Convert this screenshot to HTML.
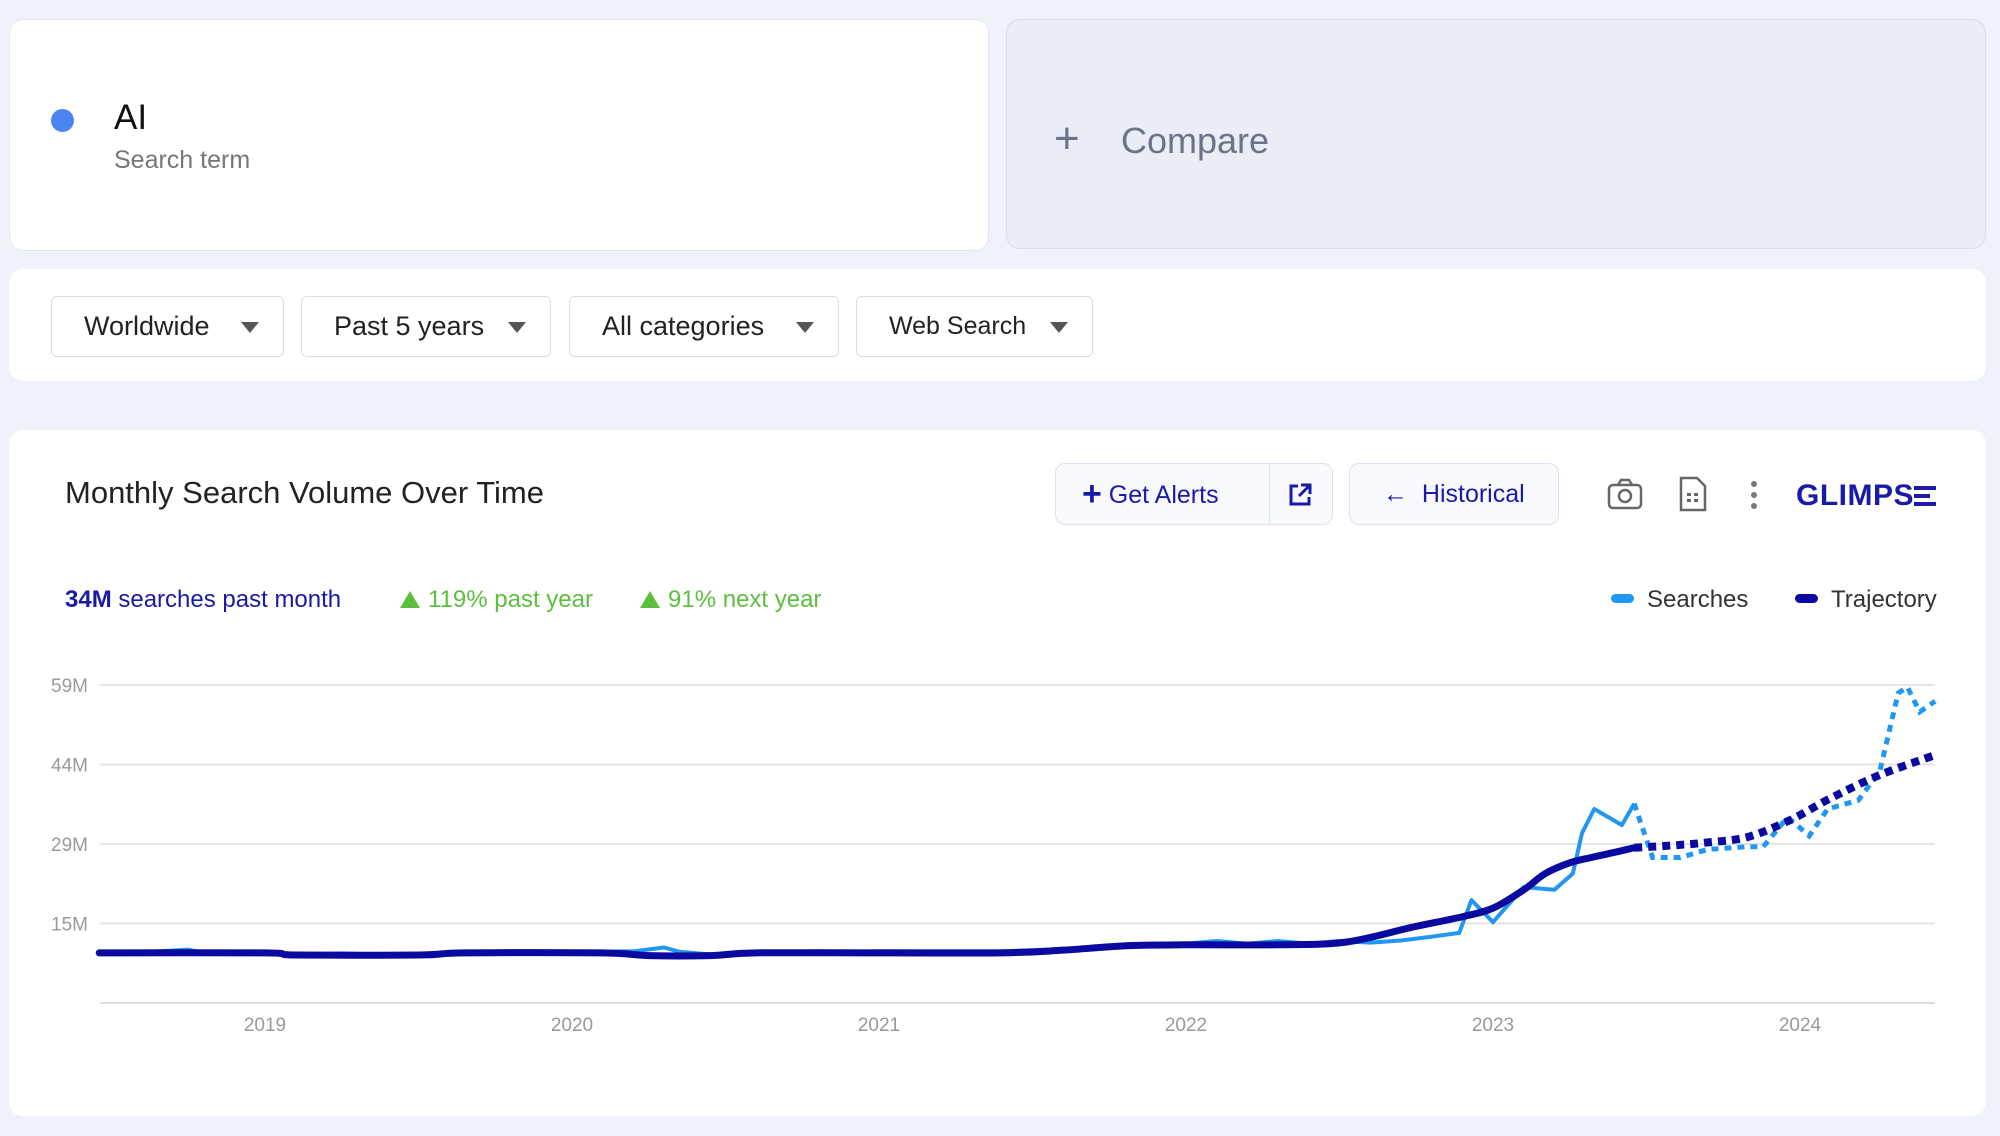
<!DOCTYPE html>
<html><head><meta charset="utf-8">
<style>
*{box-sizing:border-box;margin:0;padding:0}
body{width:2000px;height:1136px;background:#eff2f8;font-family:"Liberation Sans",sans-serif;position:relative;overflow:hidden}
.abs{position:absolute}
.card{position:absolute;background:#fff;border-radius:14px;border:1px solid #e3e6ec}
.dd{position:absolute;top:296px;height:61px;border:1px solid #d9dce2;border-radius:6px;background:#fff;font-size:27px;color:#222;line-height:59px;padding-left:32px}
.dd .car{position:absolute;right:24px;top:25px;width:0;height:0;border-left:9px solid transparent;border-right:9px solid transparent;border-top:11px solid #555}
.btn{position:absolute;top:463px;height:62px;border:1px solid #dde2ee;border-radius:10px;background:#f7f9fd;color:#1a1aa6;font-size:25px;line-height:60px}
.stat{position:absolute;top:586px;font-size:24px}
.tri{display:inline-block;width:0;height:0;border-left:10px solid transparent;border-right:10px solid transparent;border-bottom:17px solid #5cbf3e;margin-right:8px;vertical-align:-1px}
</style></head><body>
<div class="card" style="left:9px;top:19px;width:980px;height:232px"></div>
<div class="abs" style="left:51px;top:109px;width:23px;height:23px;border-radius:50%;background:#4a84f0"></div>
<div class="abs" style="left:114px;top:98px;font-size:35px;color:#111">AI</div>
<div class="abs" style="left:114px;top:146px;font-size:25px;color:#777">Search term</div>
<div class="card" style="left:1006px;top:19px;width:980px;height:230px;background:#e9edf6;border-color:#d8dde8"></div>
<div class="abs" style="left:1054px;top:114px;font-size:44px;color:#6c7386;font-weight:300">+</div>
<div class="abs" style="left:1121px;top:120px;font-size:36px;color:#6c7386">Compare</div>

<div class="card" style="left:9px;top:269px;width:1977px;height:112px;border:none"></div>
<div class="dd" style="left:51px;width:233px">Worldwide<span class="car"></span></div>
<div class="dd" style="left:301px;width:250px">Past 5 years<span class="car"></span></div>
<div class="dd" style="left:569px;width:270px">All categories<span class="car"></span></div>
<div class="dd" style="left:856px;width:237px;font-size:25px">Web Search<span class="car"></span></div>

<div class="card" style="left:9px;top:430px;width:1977px;height:686px;border:none"></div>
<div class="abs" style="left:65px;top:475px;font-size:31px;color:#222">Monthly Search Volume Over Time</div>
<div class="btn" style="left:1055px;width:278px;padding-left:26px"><span style="font-size:34px;font-weight:bold;vertical-align:-2px">+</span> Get Alerts</div>
<div class="abs" style="left:1269px;top:464px;width:1px;height:60px;background:#dde2ee"></div>
<svg class="abs" style="left:1287px;top:482px" width="26" height="26" viewBox="0 0 26 26"><path d="M11 4H4v18h18v-7" fill="none" stroke="#1a1aa6" stroke-width="3"/><path d="M14 3h9v9M23 3L12 14" fill="none" stroke="#1a1aa6" stroke-width="3"/></svg>
<div class="btn" style="left:1349px;width:210px;padding-left:33px">← &nbsp;Historical</div>
<svg class="abs" style="left:1607px;top:478px" width="36" height="32" viewBox="0 0 36 32"><rect x="2" y="7" width="32" height="23" rx="4" fill="none" stroke="#666" stroke-width="2.5"/><path d="M11 7l3-5h8l3 5" fill="none" stroke="#666" stroke-width="2.5"/><circle cx="18" cy="18" r="6" fill="none" stroke="#666" stroke-width="2.5"/></svg>
<svg class="abs" style="left:1679px;top:476px" width="28" height="36" viewBox="0 0 28 36"><path d="M2 2h16l8 8v24H2z" fill="none" stroke="#666" stroke-width="2.5"/><rect x="8" y="17" width="4" height="3" fill="#666"/><rect x="15" y="17" width="4" height="3" fill="#666"/><rect x="8" y="23" width="4" height="3" fill="#666"/><rect x="15" y="23" width="4" height="3" fill="#666"/></svg>
<svg class="abs" style="left:1749px;top:480px" width="10" height="30"><circle cx="5" cy="4" r="3" fill="#777"/><circle cx="5" cy="15" r="3" fill="#777"/><circle cx="5" cy="26" r="3" fill="#777"/></svg>
<div class="abs" style="left:1796px;top:479px;font-size:30px;font-weight:bold;color:#1a1aa6;letter-spacing:0.5px">GLIMPS<span style="display:inline-block;width:22px;height:20px;border-top:4px solid #1a1aa6;border-bottom:4px solid #1a1aa6;position:relative;vertical-align:-1px"><span style="position:absolute;left:0;top:4px;width:16px;height:4px;background:#1a1aa6"></span></span></div>

<div class="stat" style="left:65px;color:#1a1aa6"><b>34M</b> searches past month</div>
<div class="stat" style="left:400px;color:#5cbf3e"><span class="tri"></span>119% past year</div>
<div class="stat" style="left:640px;color:#5cbf3e"><span class="tri"></span>91% next year</div>
<div class="abs" style="left:1611px;top:586px;font-size:24px;color:#333"><span style="display:inline-block;width:23px;height:9px;border-radius:5px;background:#2196f3;margin-right:13px;vertical-align:4px"></span>Searches</div>
<div class="abs" style="left:1795px;top:586px;font-size:24px;color:#333"><span style="display:inline-block;width:23px;height:9px;border-radius:5px;background:#0a0a9e;margin-right:13px;vertical-align:4px"></span>Trajectory</div>

<svg id="chart" class="abs" style="left:0;top:0" width="2000" height="1136"></svg>
<script>
const yTicks=[14.75,29.5,44.25,59];
const yTickLabels=["15M","29M","44M","59M"];
const xTicks=[2019,2020,2021,2022,2023,2024];
const xTickLabels=["2019","2020","2021","2022","2023","2024"];
const searchDates=[2018.46,2018.6,2018.75,2018.8,2018.9,2019.0,2019.1,2019.25,2019.4,2019.55,2019.7,2019.8,2019.9,2020.1,2020.2,2020.3,2020.35,2020.45,2020.6,2020.8,2020.9,2021.0,2021.2,2021.4,2021.6,2021.75,2021.9,2022.0,2022.1,2022.2,2022.3,2022.4,2022.5,2022.6,2022.7,2022.8,2022.89,2022.93,2023.0,2023.1,2023.2,2023.26,2023.29,2023.33,2023.42,2023.46];
const searchValues=[9.3,9.4,9.9,9.3,9.3,9.4,8.9,9.2,8.9,9.0,9.5,9.3,9.3,9.5,9.6,10.3,9.5,9.0,9.3,9.6,9.5,9.6,9.6,9.6,10.0,10.6,10.8,11.0,11.5,11.0,11.5,11.0,11.5,11.2,11.6,12.3,13.0,19.1,15.0,21.5,21.0,24.0,31.5,36.0,33.0,37.0];
const forecastDates=[2023.46,2023.52,2023.61,2023.7,2023.83,2023.88,2023.96,2024.03,2024.09,2024.19,2024.26,2024.32,2024.35,2024.39,2024.44];
const forecastValues=[37.0,27.0,27.0,28.5,29.0,29.0,34.5,31.0,36.0,37.6,43.0,57.5,58.6,54.0,56.0];
const trajDates=[2018.46,2019.0,2019.1,2019.5,2019.65,2020.1,2020.25,2020.45,2020.6,2021.0,2021.4,2021.6,2021.8,2022.0,2022.3,2022.52,2022.74,2022.9,2023.0,2023.1,2023.17,2023.25,2023.32,2023.4,2023.46];
const trajValues=[9.3,9.3,8.9,8.9,9.3,9.3,8.8,8.8,9.3,9.3,9.3,9.8,10.6,10.8,10.8,11.3,14.1,16.0,17.6,21.0,24.0,26.0,27.0,28.0,28.8];
const trajFcDates=[2023.46,2023.6,2023.7,2023.83,2023.97,2024.1,2024.26,2024.44];
const trajFcValues=[28.8,29.3,29.8,30.8,34.0,38.0,42.3,46.0];

const X=t=>265+(t-2019)*307;
const Y=v=>1003-v*(318/59);
const svg=document.getElementById('chart');
const NS='http://www.w3.org/2000/svg';
function mk(tag,attrs){const e=document.createElementNS(NS,tag);for(const k in attrs)e.setAttribute(k,attrs[k]);svg.appendChild(e);return e;}
yTicks.forEach((v,i)=>{
  const g=mk('line',{x1:100,x2:1935,y1:Y(v),y2:Y(v),stroke:'#e6e6e6','stroke-width':2});
  
  
  const t=mk('text',{x:51,y:Y(v)+7,'font-size':19,fill:'#999','font-family':'Liberation Sans, sans-serif'});
  t.textContent=yTickLabels[i];
  
  
});
const base=mk('line',{x1:100,x2:1935,y1:1003,y2:1003,stroke:'#ddd','stroke-width':2});


xTicks.forEach((v,i)=>{
  const t=mk('text',{x:X(v),y:1031,'font-size':19,fill:'#999','text-anchor':'middle','font-family':'Liberation Sans, sans-serif'});
  t.textContent=xTickLabels[i];
  
  
});
function pts(d,v){return d.map((t,i)=>X(t).toFixed(1)+','+Y(v[i]).toFixed(1)).join(' ');}
function smooth(d,v){
  const p=d.map((t,i)=>[X(t),Y(v[i])]);
  let s='M'+p[0][0]+','+p[0][1];
  for(let i=0;i<p.length-1;i++){
    const p0=p[i-1]||p[i],p1=p[i],p2=p[i+1],p3=p[i+2]||p2;
    const c1=[p1[0]+(p2[0]-p0[0])/6,p1[1]+(p2[1]-p0[1])/6];
    const c2=[p2[0]-(p3[0]-p1[0])/6,p2[1]-(p3[1]-p1[1])/6];
    s+=' C'+c1.join(',')+' '+c2.join(',')+' '+p2.join(',');
  }
  return s;
}
const s1=mk('polyline',{points:pts(searchDates,searchValues),fill:'none',stroke:'#2196f3','stroke-width':4,'stroke-linejoin':'round'});


const s2=mk('polyline',{points:pts(forecastDates,forecastValues),fill:'none',stroke:'#2196f3','stroke-width':5,'stroke-dasharray':'7 6'});


const t1=mk('path',{d:smooth(trajDates,trajValues),fill:'none',stroke:'#0a0a9e','stroke-width':7,'stroke-linecap':'round'});


const t2=mk('path',{d:smooth(trajFcDates,trajFcValues),fill:'none',stroke:'#0a0a9e','stroke-width':8,'stroke-dasharray':'8 6'});


</script>
</body></html>
